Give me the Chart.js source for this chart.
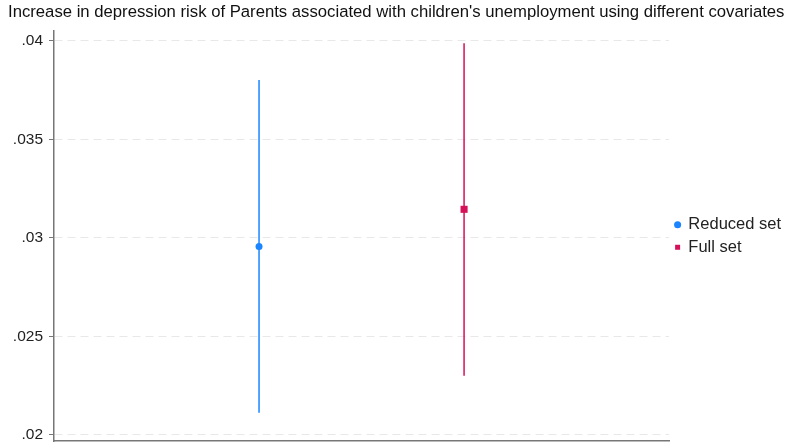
<!DOCTYPE html>
<html><head><meta charset="utf-8">
<script src="https://cdn.jsdelivr.net/npm/chart.js@4.4.1/dist/chart.umd.min.js"></script>
<style>html,body{margin:0;padding:0;background:#fff}#wrap{width:790px;height:446px}</style>
</head><body><div id="wrap"><canvas id="c" width="790" height="446"></canvas></div>
<script>
const seriesNames = ["Reduced set", "Full set"];
const seriesX = [1, 2];
const estimates = [0.02956, 0.03145];
const ciLower = [0.02113, 0.02301];
const ciUpper = [0.03801, 0.03988];
const yTickValues = [0.02, 0.025, 0.03, 0.035, 0.04];
const yTickLabels = [".02", ".025", ".03", ".035", ".04"];
const colors = ["#1a85ff", "#d41159"];
const markers = ["circle", "rect"];
const titleText = "Increase in depression risk of Parents associated with children's unemployment using different covariates";

const FONT = 'Liberation Sans, Arial, sans-serif';
const noPad = () => ({ left: 0, top: 0, right: 0, bottom: 0 });
const datasets = [];
seriesNames.forEach((n, i) => {
  datasets.push({
    type: 'line', label: n + ' CI', isCI: true,
    data: [{x: seriesX[i], y: ciLower[i]}, {x: seriesX[i], y: ciUpper[i]}],
    borderColor: colors[i], borderWidth: 1.5, pointRadius: 0, fill: false
  });
});
seriesNames.forEach((n, i) => {
  datasets.push({
    type: 'scatter', label: n,
    data: [{x: seriesX[i], y: estimates[i]}],
    backgroundColor: colors[i], borderColor: colors[i],
    pointStyle: markers[i], pointRadius: i === 0 ? 3.5 : 5, borderWidth: 0
  });
});

new Chart(document.getElementById('c'), {
  type: 'scatter',
  data: { datasets },
  options: {
    responsive: false, animation: false,
    layout: { padding: { left: 8, right: -1, top: 0, bottom: 0 } },
    plugins: {
      title: { display: true, text: titleText, align: 'start', color: '#111',
        font: { family: FONT, size: 16.7, weight: 'normal' },
        padding: { top: 2, bottom: 9 } },
      legend: { position: 'right', align: 'center', fullSize: false,
        labels: { usePointStyle: true, boxWidth: 5, boxHeight: 5, padding: 6, color: '#222',
          font: { family: FONT, size: 16.5 },
          filter: (item, data) => !data.datasets[item.datasetIndex].isCI } },
      tooltip: { enabled: false }
    },
    scales: {
      x: { type: 'linear', min: 0, max: 3,
        ticks: { display: false },
        grid: { display: false, drawTicks: false },
        border: { display: true, color: '#777', width: 1.5 },
        afterFit: s => { s.height = 3; s.paddingLeft = 0; s.paddingRight = 0; s.paddingTop = 0; s.paddingBottom = 0; s.getPadding = noPad; } },
      y: { type: 'linear', min: 0.019694, max: 0.040495,
        afterBuildTicks: s => { s.ticks = yTickValues.map(v => ({ value: v })); },
        ticks: { color: '#222', padding: 6,
          font: { family: FONT, size: 15.5 },
          callback: (v) => { const k = yTickValues.findIndex(t => Math.abs(t - v) < 1e-9); return k >= 0 ? yTickLabels[k] : ''; } },
        grid: { color: '#e8e8e8', lineWidth: 1, tickColor: '#777', tickLength: 5, tickBorderDash: [], drawTicks: true },
        border: { display: true, color: '#777', width: 1.5, dash: [8, 5] },
        afterFit: s => { s.width = 46; s.paddingTop = 0; s.paddingBottom = 0; s.paddingLeft = 0; s.paddingRight = 0; s.getPadding = noPad; } }
    }
  }
});
</script></body></html>
